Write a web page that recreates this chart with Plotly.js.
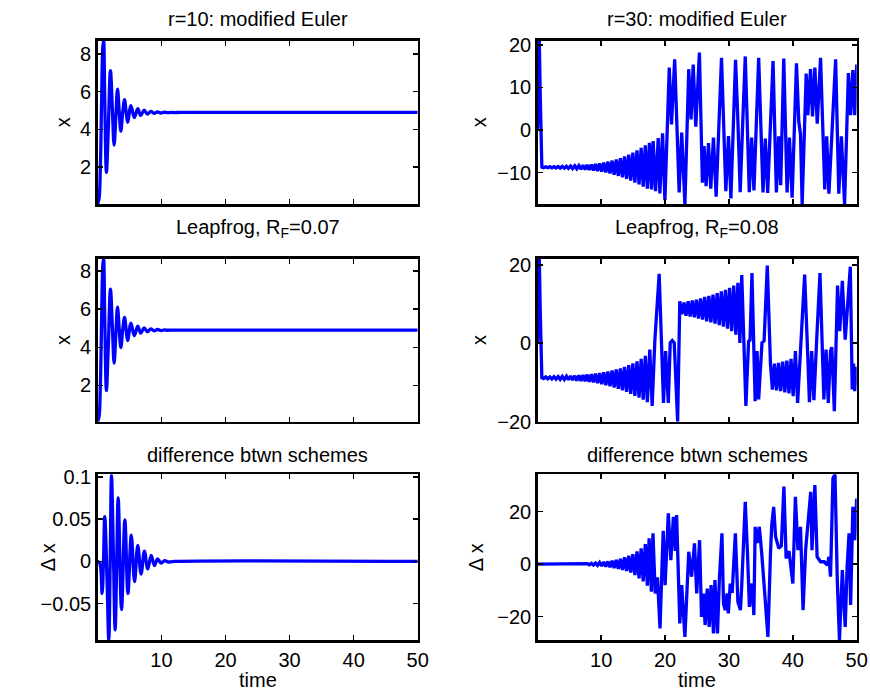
<!DOCTYPE html>
<html>
<head>
<meta charset="utf-8">
<script src="https://cdn.plot.ly/plotly-3.0.1.min.js"></script>
<style>html,body{margin:0;padding:0;background:#fff;}#chart{width:870px;height:690px;}</style>
</head>
<body>
<div id="chart"></div>
<script>
// ---------- r = 10 ----------
const tEulerR10 = [0,0.25,0.45,0.65,0.85,0.97,1.15,1.41,1.7,2.04,2.35,2.61,2.9,3.14,3.4,3.66,3.95,4.24,4.48,4.72,5.24,5.76,6.3,6.77,7.3,7.8,8.35,8.85,9.4,9.9,10.45,10.95,11.5,12,13,50];
const xEulerR10 = [0.05,0.3,1.8,5.3,8.4,8.7,5.6,1.72,4.0,7.12,5.0,3.17,4.8,6.14,5.0,3.91,4.9,5.58,4.95,4.38,5.26,4.62,5.1,4.74,5.02,4.81,4.96,4.85,4.93,4.87,4.91,4.885,4.9,4.895,4.9,4.9];

const tLeapR10 = [0,0.25,0.45,0.65,0.85,0.97,1.15,1.41,1.7,2.04,2.35,2.61,2.9,3.14,3.4,3.66,3.95,4.24,4.48,4.72,5.24,5.76,6.3,6.77,7.3,7.8,8.35,8.85,9.4,9.9,10.45,10.95,11.5,12,13,50];
const xLeapR10 = [0.1,0.35,1.8,5.2,8.3,8.65,5.5,1.73,4.0,7.04,5.0,3.17,4.8,6.1,5.0,3.98,4.9,5.56,4.95,4.35,5.26,4.61,5.1,4.74,5.02,4.82,4.96,4.86,4.93,4.87,4.91,4.89,4.9,4.9,4.9,4.9];

const tDiffR10 = [0,0.37,0.73,0.95,1.15,1.5,1.78,2.0,2.2,2.5,2.77,3.0,3.25,3.77,4.29,4.77,5.29,5.8,6.3,6.82,7.34,7.86,8.4,8.9,9.4,9.95,10.5,11,12,50];
const dxR10 = [0,-0.002,-0.038,0.0,0.053,-0.02,-0.093,0.0,0.102,0.01,-0.081,-0.01,0.075,-0.057,0.049,-0.038,0.031,-0.024,0.019,-0.015,0.012,-0.009,0.007,-0.005,0.003,-0.002,0.001,-0.0007,0,0];

// ---------- r = 30 ----------
const tEulerR30 = [0,0.15,0.3,0.45,0.7,0.97,1.3,1.62,1.95,2.27,2.6,2.92,3.25,3.57,3.9,4.22,4.55,4.87,5.2,5.52,5.85,6.17,6.5,6.82,7.15,7.47,7.8,8.12,8.45,8.77,9.1,9.42,9.75,10.07,10.4,10.72,11.05,11.37,11.7,12.02,12.35,12.67,13.0,13.32,13.65,13.97,14.3,14.62,14.95,15.27,15.6,15.92,16.25,16.57,16.9,17.22,17.55,17.87,18.13,18.5,18.92,19.18,19.6,19.97,20.65,21.0,21.5,22.2,22.6,23.1,23.7,24.06,24.4,24.8,25.37,25.84,26.1,26.42,26.79,27.15,27.57,27.99,28.46,28.83,29.51,29.93,30.3,30.66,31.03,31.4,31.76,32.13,32.55,33.18,33.55,33.91,34.28,34.65,35.33,35.69,36.06,36.48,36.9,37.42,37.79,38.1,38.35,38.58,39.1,39.47,39.89,40.25,40.57,40.93,41.2,41.46,41.82,42.09,42.35,42.77,43.08,43.45,43.82,44.34,45.0,45.3,45.65,46.2,46.7,47.2,47.6,48.1,48.5,48.7,49.05,49.4,49.7,50.0];
const xEulerR30 = [0,12,21,8,-8.7,-8.85,-8.65,-8.87,-8.63,-8.9,-8.6,-8.92,-8.58,-8.95,-8.55,-8.98,-8.52,-9.02,-8.48,-9.07,-8.43,-9.12,-8.38,-9.2,-8.3,-9.28,-8.22,-9.38,-8.12,-9.5,-8.0,-9.65,-7.85,-9.8,-7.65,-10.0,-7.45,-10.25,-7.2,-10.5,-6.9,-10.8,-6.6,-11.15,-6.2,-11.5,-5.8,-11.9,-5.3,-12.35,-4.8,-12.8,-4.2,-13.3,-3.6,-13.8,-3.0,-14.0,-2.6,-14.4,-1.9,-14.9,-0.8,-16.5,14.7,1.3,16.6,-14.7,-0.6,-17.4,14.3,2.5,15.4,0.8,18.2,-12.4,-3.8,-13.2,-3.1,-13.8,-1.8,-15.7,1.6,17.0,-14.4,-1.4,-16.1,1.8,16.5,2.0,-14.6,0.8,17.3,-14.6,-1.8,-14.2,1.0,17.0,-14.7,-2.0,-14.8,0.9,16.2,-14.7,-1.5,-13.0,1.5,16.8,-14.7,-1.8,-15.9,1.5,15.7,2.0,-1.0,-17.4,4.0,13.3,3.5,14.3,3.2,14.7,1.5,17.0,-14.0,-1.5,-15.0,1.0,16.6,-15.0,-1.5,-17.4,2.0,13.4,3.5,14.1,3.5,15.4];

const tLeapR30 = [0,0.15,0.3,0.45,0.7,0.97,1.3,1.62,1.95,2.27,2.6,2.92,3.25,3.57,3.9,4.22,4.55,4.87,5.2,5.52,5.85,6.17,6.5,6.82,7.15,7.47,7.8,8.12,8.45,8.77,9.1,9.42,9.75,10.07,10.4,10.72,11.05,11.37,11.7,12.02,12.35,12.67,13.0,13.32,13.65,13.97,14.3,14.62,14.95,15.27,15.6,15.92,16.25,16.57,16.9,17.22,17.6,17.97,18.4,19.07,19.44,19.75,20.07,20.5,20.8,21.12,21.43,21.96,22.3,22.62,22.95,23.27,23.6,23.92,24.25,24.57,24.9,25.22,25.55,25.87,26.2,26.52,26.85,27.17,27.5,27.82,28.15,28.47,28.8,29.12,29.45,29.77,30.1,30.42,30.75,31.07,31.4,31.7,32.0,32.65,33.07,33.3,33.6,34.1,34.4,34.65,35.17,35.5,36.0,36.5,36.8,37.12,37.45,37.77,38.1,38.42,38.75,39.07,39.4,39.72,40.05,40.4,40.75,41.35,41.85,42.3,42.6,42.95,43.3,43.75,44.25,44.86,45.2,45.55,45.9,46.1,46.5,47.0,47.35,47.75,48.2,49.0,49.3,49.5,49.7,50.0];
const xLeapR30 = [0,12,21.6,8,-8.8,-9.0,-8.6,-9.05,-8.6,-9.1,-8.55,-9.15,-8.5,-9.2,-8.45,-9.25,-8.4,-9.3,-8.35,-9.4,-8.3,-9.5,-8.2,-9.6,-8.1,-9.7,-8.0,-9.85,-7.9,-10.0,-7.75,-10.2,-7.6,-10.45,-7.4,-10.7,-7.2,-11.0,-6.95,-11.3,-6.7,-11.65,-6.4,-12.0,-6.0,-12.4,-5.6,-12.9,-5.1,-13.4,-4.6,-13.9,-4.0,-14.4,-3.2,-15.0,-1.6,-16.0,0.9,17.7,1.4,-15.2,-2.0,-15.2,0.1,0.7,0.1,-20,10.7,7.4,10.4,7.0,10.7,6.8,10.9,6.6,11.1,6.3,11.4,6.0,11.8,5.6,12.1,5.3,12.4,5.0,12.8,4.6,13.2,4.2,13.6,3.7,14.1,3.1,14.7,2.2,15.4,0.1,17.4,-16.0,0.5,0.8,17.9,-14.8,-2.0,-14.3,0.1,0.6,19.8,-5.4,-11.8,-5.2,-12.0,-5.0,-12.2,-4.7,-12.5,-4.4,-12.8,-4.0,-13.5,-2.0,-15.2,2.2,17.5,-1.6,-15.0,-2.0,-14.5,1.5,17.9,-14.3,-1.6,-15.2,-2.0,-1.0,-17.3,14.7,3.1,15.9,0.9,19.5,-11.8,-5.2,-12.2,-6.0];

const tDiffR30 = [0,7.5,7.8,8.12,8.45,8.77,9.1,9.42,9.75,10.07,10.4,10.72,11.05,11.37,11.7,12.02,12.35,12.67,13.0,13.32,13.65,13.97,14.3,14.62,14.95,15.27,15.6,15.92,16.25,16.57,16.9,17.22,17.5,17.85,18.1,18.45,18.8,19.2,19.7,20.0,20.5,20.9,21.3,21.6,21.8,22.3,22.6,23.1,23.7,24.15,24.6,24.95,25.4,25.7,26.0,26.26,26.6,26.9,27.2,27.57,27.8,28.2,28.5,28.9,29.14,29.4,29.7,29.9,30.2,30.5,31.0,31.4,31.8,32.0,32.55,32.9,33.2,33.6,33.9,34.1,34.4,34.75,35.1,35.7,36.1,36.5,36.7,37.0,37.3,37.8,38.2,38.6,38.95,39.4,40.0,40.4,40.8,41.2,41.6,42.0,42.8,43.0,43.45,43.8,44.34,44.9,45.4,45.65,45.9,46.28,46.6,46.96,47.3,47.75,48.2,48.5,48.8,49.05,49.4,49.7,50.0];
const dxR30 = [0,0,0.2,-0.25,0.3,-0.35,0.4,-0.5,0.6,-0.7,0.8,-0.95,1.0,-1.2,1.3,-1.5,1.6,-1.8,2.0,-2.2,2.6,-2.6,3.2,-3.2,3.8,-4.2,4.8,-5.4,6.0,-6.6,7.6,-8.2,9.8,-10.5,11.7,-11.2,-5,-24.5,12.7,-8,19.3,1.5,18.0,5,18.7,-22.6,-8,-27.7,4.7,-4.8,7.9,-11.2,9.1,-20.1,-11.2,-23.2,-9.3,-23.9,-8.0,-26.4,-6.1,-26.4,-5.5,11.7,-15,-17.5,-11.2,-18.8,-7.4,-11,11.7,-14.4,-17.5,-8,23.7,4,-16.3,-7.4,-19.4,14.2,8,14.2,5,-14.4,-27.7,4.1,14.8,21.8,10.4,6,7,29.5,2.2,5,-7.4,25.6,5.3,14.2,-17.5,5.3,27.5,5.3,30.1,2.8,0.9,0.9,-0.4,2.8,-4.8,32.6,34.2,-6.1,-28.9,-2.3,-23.9,-1,11.7,-15.6,21.8,9.1,25];

// ---------- axes ticks & text ----------
const xTickVals = [10,20,30,40,50];
const yTicksR10 = [2,4,6,8];
const yTicksDiffR10 = [-0.05,0,0.05,0.1];
const yTickTextDiffR10 = ['\u22120.05','0','0.05','0.1'];
const yTicksEulerR30 = [-10,0,10,20];
const yTicksR30 = [-20,0,20];
const subplotTitles = ['r=10: modified Euler','r=30: modified Euler','Leapfrog, R<sub>F</sub>=0.07','Leapfrog, R<sub>F</sub>=0.08','difference btwn schemes','difference btwn schemes'];

const W = 870, H = 690;
const colL = [97.7, 417.7], colR = [537.7, 856.7];
const rows = [[40.7, 204], [258.5, 421.7], [474.3, 640]];
const xd = c => [c[0]/W, c[1]/W];
const yd = r => [1 - r[1]/H, 1 - r[0]/H];

const FONT = 'Liberation Sans, Arial, Helvetica, sans-serif';
function xax(col, row, labels) {
  return {domain: xd(col), anchor: 'y' + row, range: [0.05, 50], tickvals: xTickVals,
    showticklabels: labels, showline: true, linecolor: '#000', linewidth: 2.5, mirror: 'ticks',
    ticks: 'inside', ticklen: 5, tickwidth: 1.5, tickcolor: '#000', showgrid: false, zeroline: false,
    tickfont: {family: FONT, size: 20, color: '#000'}};
}
function yax(row, col, range, tv, tt) {
  const a = {domain: yd(row), anchor: 'x' + col, range: range, tickvals: tv,
    showline: true, linecolor: '#000', linewidth: 2.5, mirror: 'ticks',
    ticks: 'inside', ticklen: 5, tickwidth: 1.5, tickcolor: '#000', showgrid: false, zeroline: false,
    tickfont: {family: FONT, size: 20, color: '#000'}};
  if (tt) a.ticktext = tt;
  return a;
}
const lineStyle = {color: '#0000ff', width: 3.3};
const data = [
  {x: tEulerR10, y: xEulerR10, xaxis: 'x', yaxis: 'y', mode: 'lines', line: Object.assign({shape: 'spline', smoothing: 1}, lineStyle)},
  {x: tEulerR30, y: xEulerR30, xaxis: 'x2', yaxis: 'y2', mode: 'lines', line: lineStyle},
  {x: tLeapR10, y: xLeapR10, xaxis: 'x3', yaxis: 'y3', mode: 'lines', line: Object.assign({shape: 'spline', smoothing: 1}, lineStyle)},
  {x: tLeapR30, y: xLeapR30, xaxis: 'x4', yaxis: 'y4', mode: 'lines', line: lineStyle},
  {x: tDiffR10, y: dxR10, xaxis: 'x5', yaxis: 'y5', mode: 'lines', line: Object.assign({shape: 'spline', smoothing: 1}, lineStyle)},
  {x: tDiffR30, y: dxR30, xaxis: 'x6', yaxis: 'y6', mode: 'lines', line: lineStyle}
];

const ann = [];
const titleY = [19, 228, 455];
const cx = [(colL[0]+colL[1])/2, (colR[0]+colR[1])/2];
subplotTitles.forEach((s, i) => {
  ann.push({text: s, x: cx[i % 2]/W, y: 1 - titleY[Math.floor(i/2)]/H, xref: 'paper', yref: 'paper',
    xanchor: 'center', yanchor: 'middle', showarrow: false, font: {family: FONT, size: 20, color: '#000'}});
});
const yLabels = [['x', 63, 0], ['x', 479, 0], ['x', 63, 1], ['x', 479, 1], ['\u0394 x', 48, 2], ['\u0394 x', 476, 2]];
yLabels.forEach(([s, px, r]) => {
  ann.push({text: s, x: px/W, y: 1 - (rows[r][0]+rows[r][1])/2/H, xref: 'paper', yref: 'paper',
    xanchor: 'center', yanchor: 'middle', textangle: -90, showarrow: false, font: {family: FONT, size: 20, color: '#000'}});
});
[cx[0], cx[1]].forEach(px => {
  ann.push({text: 'time', x: px/W, y: 1 - 680/H, xref: 'paper', yref: 'paper',
    xanchor: 'center', yanchor: 'middle', showarrow: false, font: {family: FONT, size: 20, color: '#000'}});
});

const layout = {
  width: W, height: H, margin: {l: 0, r: 0, t: 0, b: 0}, showlegend: false,
  paper_bgcolor: '#fff', plot_bgcolor: '#fff', font: {family: FONT, size: 20, color: '#000'},
  xaxis: xax(colL, '', false), xaxis2: xax(colR, '2', false),
  xaxis3: xax(colL, '3', false), xaxis4: xax(colR, '4', false),
  xaxis5: xax(colL, '5', true), xaxis6: xax(colR, '6', true),
  yaxis: yax(rows[0], '', [0.05, 8.7], yTicksR10),
  yaxis2: yax(rows[0], '2', [-17.4, 21], yTicksEulerR30),
  yaxis3: yax(rows[1], '3', [0.1, 8.65], yTicksR10),
  yaxis4: yax(rows[1], '4', [-20, 21.6], yTicksR30),
  yaxis5: yax(rows[2], '5', [-0.093, 0.103], yTicksDiffR10, yTickTextDiffR10),
  yaxis6: yax(rows[2], '6', [-28.9, 34.2], yTicksR30),
  annotations: ann
};
Plotly.newPlot('chart', data, layout, {staticPlot: true, displayModeBar: false});
</script>
</body>
</html>
